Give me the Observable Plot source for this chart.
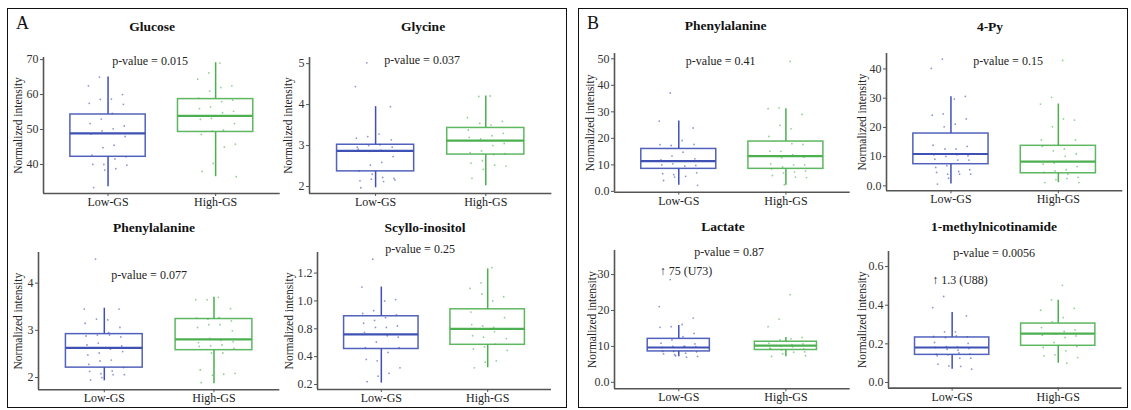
<!DOCTYPE html>
<html>
<head>
<meta charset="utf-8">
<script src="https://cdn.jsdelivr.net/npm/d3@7"></script>
<script src="https://cdn.jsdelivr.net/npm/@observablehq/plot@0.6"></script>
<style>
  html, body { margin: 0; padding: 0; background: #fff; }
  #chart { position: relative; width: 1131px; height: 410px; font-family: "Liberation Serif", "DejaVu Serif", serif; color: #111; }
  #chart svg, #chart svg text { font-family: "Liberation Serif", "DejaVu Serif", serif !important; }
  .sub { position: absolute; }
  .frame { position: absolute; border: 1.6px solid #111; box-sizing: border-box; }
  .lbl { position: absolute; white-space: nowrap; transform: translate(-50%, -50%); font-family: "Liberation Serif", serif; }
  .title { font-weight: bold; font-size: 13.5px; }
  .pval { font-size: 12px; color: #222; }
  .letter { position: absolute; font-size: 18px; font-family: "Liberation Serif", serif; }
</style>
</head>
<body>
<div id="chart"></div>
<script>
// ---------- data ----------
const groups = ["Low-GS", "High-GS"];

// box stats: [lower whisker, q1, median, q3, upper whisker]
const glucoseBoxLow  = [33.6, 42.2, 48.9, 54.3, 65.0];
const glucoseBoxHigh = [36.5, 49.3, 53.9, 58.7, 69.1];
const glucoseLow  = [65, 62.5, 60, 58.7, 58.6, 57.5, 57.2, 54.6, 53, 51.7, 51, 50.2, 49.6, 48.7, 48, 45.5, 44.8, 42.7, 42.2, 41.6, 40, 40, 39.8, 38.8, 38.4, 33.4];
const glucoseHigh = [69, 66.2, 64.4, 62.5, 62, 61, 59, 58.4, 58, 56.5, 56, 55.2, 54.8, 53.2, 52.9, 51.7, 49.8, 49.5, 48.6, 45.8, 45, 40.3, 38, 36.5];

const glycineBoxLow  = [1.97, 2.37, 2.87, 3.02, 3.95];
const glycineBoxHigh = [2.02, 2.78, 3.12, 3.43, 4.21];
const glycineLow  = [5.02, 4.44, 3.95, 3.28, 3.22, 3.18, 3.14, 3.02, 3.0, 2.96, 2.96, 2.89, 2.86, 2.91, 2.73, 2.59, 2.52, 2.38, 2.2, 2.22, 2.18, 2.14, 2.16, 2.12, 2.3, 1.97];
const glycineHigh = [4.21, 4.2, 3.68, 3.59, 3.5, 3.54, 3.38, 3.3, 3.24, 3.16, 3.2, 3.05, 3.0, 2.87, 2.83, 2.8, 2.78, 2.63, 2.57, 2.5, 2.52, 2.42, 2.2];

const pheABoxLow  = [1.93, 2.21, 2.63, 2.92, 3.47];
const pheABoxHigh = [1.87, 2.58, 2.81, 3.24, 3.70];
const pheALow  = [4.51, 3.45, 3.45, 3.22, 3.24, 3.15, 3.06, 2.95, 2.9, 2.88, 2.86, 2.9, 2.73, 2.69, 2.67, 2.6, 2.52, 2.48, 2.55, 2.37, 2.35, 2.28, 2.21, 2.14, 2.08, 2.13, 2.06, 2.06, 2.0, 1.95];
const pheAHigh = [3.7, 3.65, 3.65, 3.46, 3.27, 3.24, 3.26, 3.2, 3.12, 3.12, 3.06, 2.99, 2.79, 2.83, 2.74, 2.76, 2.69, 2.67, 2.66, 2.62, 2.52, 2.52, 2.16, 2.09, 2.07, 2.05, 1.89];

// Scyllo-inositol axis labels are unevenly valued but evenly spaced
const scylloTickLabels = ["0.2", "0.4", "0.8", "1.0", "1.2"];
const scylloBoxLow  = [0.21, 0.51, 0.72, 0.89, 1.10];
const scylloBoxHigh = [0.32, 0.57, 0.80, 0.94, 1.23];
const scylloLow  = [1.30, 1.10, 1.01, 1.0, 0.93, 0.91, 0.9, 0.88, 0.86, 0.84, 0.82, 0.81, 0.81, 0.75, 0.68, 0.70, 0.61, 0.53, 0.53, 0.46, 0.37, 0.38, 0.32, 0.28, 0.26, 0.22];
const scylloHigh = [1.24, 1.13, 1.09, 1.03, 1.0, 1.05, 0.92, 0.88, 0.81, 0.82, 0.83, 0.80, 0.76, 0.68, 0.70, 0.66, 0.58, 0.54, 0.51, 0.49, 0.37, 0.36, 0.32];

const pheBBoxLow  = [2.3, 8.5, 11.4, 16.0, 26.5];
const pheBBoxHigh = [2.3, 8.5, 13.3, 18.8, 31.2];
const pheBLow  = [37.1, 26.5, 23.9, 19.2, 17.3, 17.6, 17.7, 14.8, 13.3, 11.9, 12.3, 11.4, 10.4, 10, 9.8, 9.5, 6.3, 6.7, 7, 5.7, 5.4, 4.1, 2.3];
const pheBHigh = [49, 31.5, 31.2, 29, 23.6, 24.9, 20.7, 17.7, 18, 15.1, 15.2, 12.9, 13.9, 12.7, 10.4, 10, 10, 9.2, 8.5, 7.7, 7.3, 6.9, 6, 5.2, 5.4, 2.5];

const pyBoxLow  = [0.6, 7.4, 10.9, 17.9, 30.5];
const pyBoxHigh = [1.1, 4.3, 8.3, 13.7, 28.0];
const pyLow  = [43.4, 40.2, 30.6, 29.7, 24.6, 24.2, 22.9, 21.1, 20.2, 13.9, 13.5, 12.6, 12.6, 10.6, 10.3, 10.6, 10.1, 9.1, 8.8, 8.8, 6.9, 6.3, 5.5, 4.9, 4.0, 4.6, 4, 4, 2.6, 0.6];
const pyHigh = [42.9, 30.3, 28, 22.5, 22.9, 20.2, 15.7, 15.7, 12.6, 12, 13.5, 10.9, 10.1, 7.8, 7.4, 6.6, 5.5, 5.1, 4.6, 2.9, 2.5, 2.1, 1.1, 1.1, 4];

const lactateBoxLow  = [7.1, 8.6, 9.7, 12.1, 15.8];
const lactateBoxHigh = [7.1, 9.0, 10.2, 11.3, 12.5];
const lactateLow  = [28.6, 21.1, 17.9, 16.1, 15.5, 15.3, 13.6, 12.7, 11.8, 10.9, 10.7, 10, 10, 9.7, 9.9, 10, 8.6, 8.6, 8.5, 8.1, 7.7, 7.9, 7.2, 7.0, 7.4];
const lactateHigh = [24.4, 17.6, 15.5, 12.5, 12.1, 11.8, 10.9, 10.7, 10.5, 10, 9.5, 9.3, 9.9, 9, 9.3, 8.5, 8.4, 7.9, 7.2, 7.4];

const mnaBoxLow  = [0.069, 0.143, 0.181, 0.233, 0.362];
const mnaBoxHigh = [0.100, 0.190, 0.253, 0.305, 0.426];
const mnaLow  = [0.445, 0.388, 0.345, 0.262, 0.262, 0.238, 0.236, 0.241, 0.233, 0.207, 0.202, 0.184, 0.186, 0.181, 0.176, 0.167, 0.172, 0.147, 0.147, 0.153, 0.143, 0.138, 0.126, 0.126, 0.086, 0.095, 0.069, 0.083];
const mnaHigh = [0.503, 0.428, 0.374, 0.384, 0.336, 0.314, 0.284, 0.272, 0.264, 0.253, 0.245, 0.241, 0.233, 0.207, 0.181, 0.186, 0.164, 0.143, 0.138, 0.129, 0.1, 0.25];

const titles = ["Glucose", "Glycine", "Phenylalanine", "Scyllo-inositol", "Phenylalanine", "4-Py", "Lactate", "1-methylnicotinamide"];
const pValues = ["p-value = 0.015", "p-value = 0.037", "p-value = 0.077", "p-value = 0.25", "p-value = 0.41", "p-value = 0.15", "p-value = 0.87", "p-value = 0.0056"];
const notes = ["↑ 75 (U73)", "↑ 1.3 (U88)"];

// ---------- layout ----------
const colors = ["#3f51b5", "#4caf50"];
const axisColor = "#555";
const serif = "Liberation Serif, DejaVu Serif, serif";
const chart = document.getElementById("chart");

// piecewise mapping for the Scyllo-inositol axis (label value -> even position)
const scylloPos = d3.scaleLinear().domain([0.2, 0.4, 0.8, 1.0, 1.2]).range([0, 1, 2, 3, 4]);

const subplots = [
  {area: [43.3, 57, 280, 193], y: [31.7, 70.6], ticks: [40, 50, 60, 70], fmt: d => String(d),
   low: glucoseLow, high: glucoseHigh, bl: glucoseBoxLow, bh: glucoseBoxHigh, bw: 0.7, yl: -25,
   title: [152, 27], pv: [150, 61]},
  {area: [309.3, 57, 551.7, 193], y: [1.83, 5.15], ticks: [2, 3, 4, 5], fmt: d => String(d),
   low: glycineLow, high: glycineHigh, bl: glycineBoxLow, bh: glycineBoxHigh, bw: 0.7, yl: -21,
   title: [423, 27], pv: [422, 60]},
  {area: [37.7, 251.7, 279, 389], y: [1.74, 4.65], ticks: [2, 3, 4], fmt: d => String(d),
   low: pheALow, high: pheAHigh, bl: pheABoxLow, bh: pheABoxHigh, bw: 0.7, yl: -20,
   title: [154, 227.7], pv: [149, 275]},
  {area: [316.7, 252, 550.7, 389], y: [-0.18, 4.74], ticks: [0, 1, 2, 3, 4], fmt: d => scylloTickLabels[d],
   low: scylloLow, high: scylloHigh, bl: scylloBoxLow, bh: scylloBoxHigh, bw: 0.7, map: scylloPos, yl: -28,
   title: [425, 227.7], pv: [420, 249]},
  {area: [614.3, 53, 850, 191.7], y: [-0.3, 52], ticks: [0, 10, 20, 30, 40, 50], fmt: d => d === 0 ? "0.0" : String(d),
   low: pheBLow, high: pheBHigh, bl: pheBBoxLow, bh: pheBBoxHigh, bw: 0.7, yl: -24,
   title: [725.7, 25.7], pv: [720.7, 61]},
  {area: [885.7, 52.7, 1122, 190], y: [-1.7, 45.3], ticks: [0, 10, 20, 30, 40], fmt: d => d === 0 ? "0.0" : String(d),
   low: pyLow, high: pyHigh, bl: pyBoxLow, bh: pyBoxHigh, bw: 0.7, yl: -24,
   title: [990, 27], pv: [1008, 61]},
  {area: [614.3, 250, 850, 388.3], y: [-1.8, 36.7], ticks: [0, 10, 20, 30], fmt: d => d === 0 ? "0.0" : String(d),
   low: lactateLow, high: lactateHigh, bl: lactateBoxLow, bh: lactateBoxHigh, bw: 0.58, yl: -22,
   title: [723, 226.7], pv: [729, 251.7], note: [686, 270.7, 0]},
  {area: [888.3, 250.7, 1121.7, 387.3], y: [-0.029, 0.678], ticks: [0, 0.2, 0.4, 0.6], fmt: d => d.toFixed(1),
   low: mnaLow, high: mnaHigh, bl: mnaBoxLow, bh: mnaBoxHigh, bw: 0.7, yl: -26,
   title: [994, 226.7], pv: [994, 253.3], note: [960, 280, 1]}
];

function addDiv(cls, text, x, y) {
  const d = document.createElement("div");
  d.className = cls;
  d.textContent = text;
  d.style.left = x + "px";
  d.style.top = y + "px";
  chart.appendChild(d);
  return d;
}

// panel frames and letters
[[7, 8, 560, 400], [578, 8, 550, 400]].forEach(([x, y, w, h]) => {
  const f = document.createElement("div");
  f.className = "frame";
  Object.assign(f.style, {left: x + "px", top: y + "px", width: w + "px", height: h + "px"});
  chart.appendChild(f);
});
addDiv("letter", "A", 16, 13);
addDiv("letter", "B", 587, 13);

const jitter = i => (((i * 0.7548776662 + 0.31) % 1) - 0.5) * 0.42;

subplots.forEach((s, k) => {
  const mL = 46, mR = 4, mT = 4, mB = 22;
  const [l, t, r, b] = s.area;
  const w = r - l + mL + mR;
  const h = b - t + mT + mB;
  const tf = s.map || (v => v);
  const boxes = [s.bl, s.bh].map((bx, gi) => ({
    g: gi + 1, lo: tf(bx[0]), q1: tf(bx[1]), med: tf(bx[2]), q3: tf(bx[3]), hi: tf(bx[4])
  }));
  const pts = [];
  s.low.forEach((v, i) => pts.push({g: 1, x: 1 + jitter(i), v: tf(v)}));
  s.high.forEach((v, i) => pts.push({g: 2, x: 2 + jitter(i + 7), v: tf(v)}));

  const marks = [
    Plot.ruleX([0.4], {stroke: axisColor, strokeWidth: 1.6}),
    Plot.ruleY([s.y[0]], {stroke: axisColor, strokeWidth: 1.6}),
    Plot.axisY({ticks: s.ticks, tickFormat: s.fmt, tickSize: 3, tickPadding: 2, stroke: axisColor, fill: "#333", label: null, fontSize: 12, fontFamily: serif}),
    Plot.axisX({ticks: [1, 2], tickFormat: d => groups[d - 1], tickSize: 3, tickPadding: 1, stroke: axisColor, fill: "#222", label: null, fontSize: 12, fontFamily: serif}),
    Plot.text(["Normalized intensity"], {frameAnchor: "left", textAnchor: "middle", rotate: -90, dx: s.yl, fontSize: 11.5, fill: "#222", fontFamily: serif})
  ];
  [1, 2].forEach(g => {
    const c = colors[g - 1];
    const bx = boxes.filter(d => d.g === g);
    marks.push(
      Plot.ruleX(bx, {x: "g", y1: "lo", y2: "q1", stroke: c, strokeWidth: 1.5}),
      Plot.ruleX(bx, {x: "g", y1: "q3", y2: "hi", stroke: c, strokeWidth: 1.5}),
      Plot.rect(bx, {x1: d => d.g - s.bw / 2, x2: d => d.g + s.bw / 2, y1: "q1", y2: "q3", fill: "none", stroke: c, strokeWidth: 1.5, strokeOpacity: 0.9}),
      Plot.ruleY(bx, {y: "med", x1: d => d.g - s.bw / 2, x2: d => d.g + s.bw / 2, stroke: c, strokeWidth: 2.2}),
      Plot.dot(pts.filter(d => d.g === g), {x: "x", y: "v", r: 0.9, fill: c, fillOpacity: 0.6, stroke: "none"})
    );
  });

  const svg = Plot.plot({
    width: w, height: h,
    marginLeft: mL, marginRight: mR, marginTop: mT, marginBottom: mB,
    style: {fontFamily: serif, fontSize: "12px", background: "transparent", color: "#222", overflow: "visible"},
    x: {domain: [0.4, 2.6]},
    y: {domain: s.y},
    marks
  });
  svg.classList.add("sub");
  svg.style.left = (l - mL) + "px";
  svg.style.top = (t - mT) + "px";
  chart.appendChild(svg);

  addDiv("lbl title", titles[k], s.title[0], s.title[1]);
  addDiv("lbl pval", pValues[k], s.pv[0], s.pv[1]);
  if (s.note) addDiv("lbl pval", notes[s.note[2]], s.note[0], s.note[1]);
});
</script>
</body>
</html>
